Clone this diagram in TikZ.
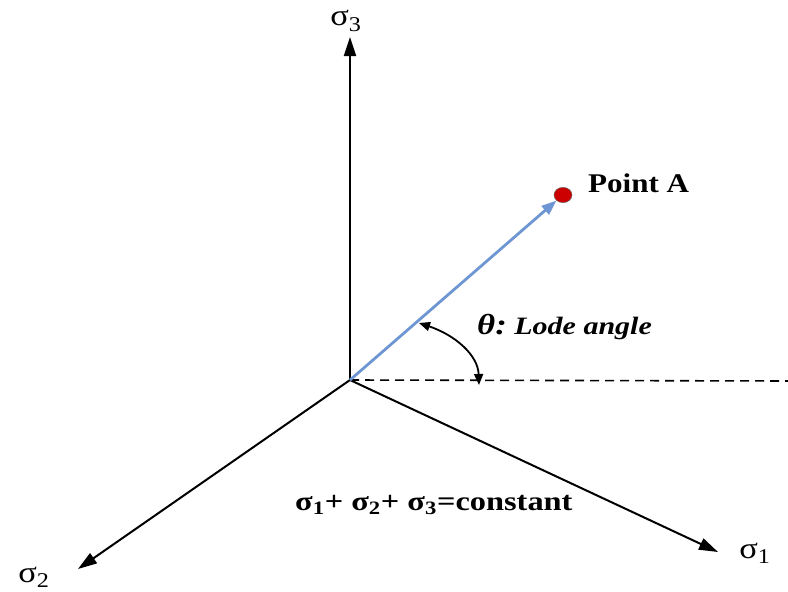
\documentclass[tikz,border=0pt]{standalone}
\usepackage{fontspec}
\setmainfont{Liberation Serif}
\usetikzlibrary{arrows.meta}
\begin{document}
\begin{tikzpicture}[x=1pt,y=-1pt,
  axis/.style={line width=2pt,-{Triangle[length=19pt,width=12pt]}},
  lbl/.style={inner sep=0pt,xscale=1.15,font=\fontsize{30}{34}\selectfont},
  btxt/.style={inner sep=0pt,xscale=1.15,font=\bfseries\fontsize{27}{32}\selectfont}]
\useasboundingbox (0,0) rectangle (788,592);
\coordinate (O) at (350,380);
\coordinate (s3) at (350,37);
\coordinate (s2) at (78,569);
\coordinate (s1) at (718,552);
\coordinate (E) at (788,381);
\node[circle,fill=red!80!black,draw=black!60,line width=0.5pt,minimum width=18pt,inner sep=0pt,yscale=0.85] (A) at (563,195) {};
\draw[axis] (O) -- (s3);
\draw[axis] (O) -- (s2);
\draw[axis] (O) -- (s1);
\draw[line width=1.6pt,dash pattern=on 9pt off 6pt] (O) -- (E);
\draw[line width=2.8pt,color={rgb,255:red,110;green,150;blue,210},-{Triangle[length=15pt,width=11pt]}] (O) -- (A.south west);
\coordinate (a1) at (419,323);
\coordinate (a2) at (479,385);
\draw[line width=1.8pt,{Triangle[length=11pt,width=9pt]}-{Triangle[length=11pt,width=9pt]}] (a1) .. controls (455,335) and (478,355) .. (a2);
\node[lbl] (l3) at (346,21) {σ\textsubscript{3}};
\node[lbl] (l2) at (34,577) {σ\textsubscript{2}};
\node[lbl] (l1) at (755,553) {σ\textsubscript{1}};
\node[btxt,anchor=west] (pa) at (588,183) {Point A};
\node[anchor=west,inner sep=0pt,xscale=1.2] (th) at (477,327) {\bfseries\itshape\fontsize{29}{32}\selectfont θ:\fontsize{25}{28}\selectfont\ Lode angle};
\node[anchor=west,inner sep=0pt,xscale=1.2] (eq) at (295,505) {\bfseries\fontsize{27}{32}\selectfont σ\textsubscript{1}+ σ\textsubscript{2}+ σ\textsubscript{3}=constant};
\end{tikzpicture}
\end{document}
